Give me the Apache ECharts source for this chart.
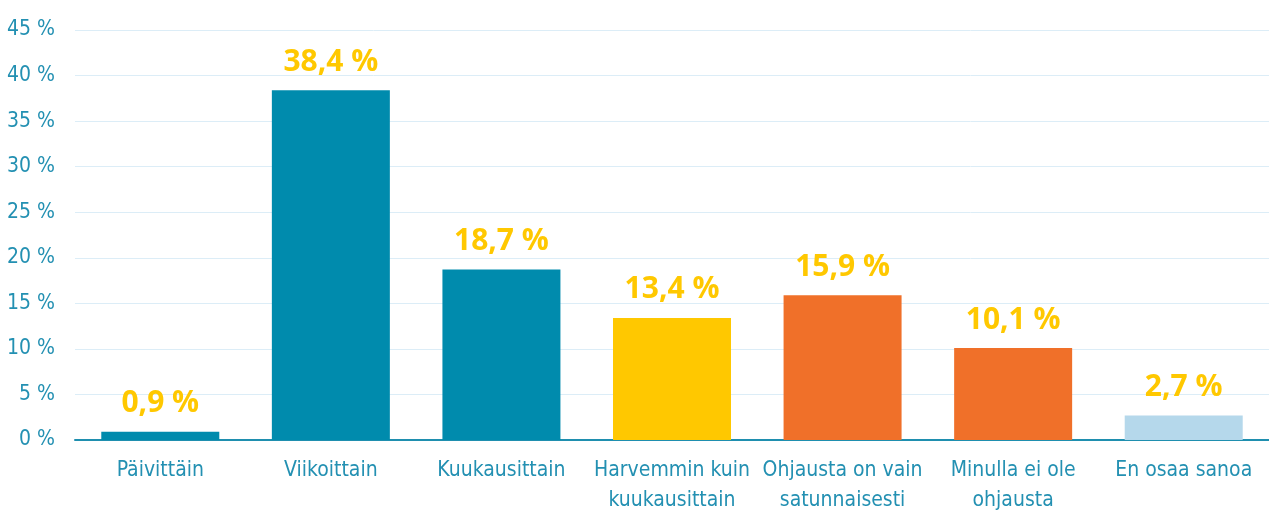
<!DOCTYPE html>
<html>
<head>
<meta charset="utf-8">
<script src="https://cdn.jsdelivr.net/npm/echarts@6/dist/echarts.min.js"></script>
<style>
  html, body { margin: 0; padding: 0; background: #fff; }
  #chart { width: 1269px; height: 517px; }
</style>
</head>
<body>
<div id="chart"></div>
<script>
var categories = [
  "Päivittäin",
  "Viikoittain",
  "Kuukausittain",
  "Harvemmin kuin\nkuukausittain",
  "Ohjausta on vain\nsatunnaisesti",
  "Minulla ei ole\nohjausta",
  "En osaa sanoa"
];
var values = [0.9, 38.4, 18.7, 13.4, 15.9, 10.1, 2.7];
var barColors = ["#008BAD", "#008BAD", "#008BAD", "#FFC800", "#F07029", "#F07029", "#B5D8EB"];

// condensed face via font-stretch keyword in the canvas font shorthand
var axisFont = "'DejaVu Sans', sans-serif";
var axisStretch = "condensed";

var myChart = echarts.init(document.getElementById("chart"), null, { renderer: "canvas" });

var option = {
  animation: false,
  grid: {
    top: 30,
    left: 75,
    right: 0,
    bottom: 77,
    containLabel: false
  },
  xAxis: {
    type: "category",
    data: categories,
    axisTick: { show: false },
    axisLine: { show: true, lineStyle: { color: "#1F8FAF", width: 2 } },
    axisLabel: {
      interval: 0,
      margin: 16,
      color: "#2390B2",
      fontSize: 21,
      lineHeight: 30,
      fontStyle: axisStretch,
      fontFamily: axisFont
    }
  },
  yAxis: {
    type: "value",
    min: 0,
    max: 45,
    interval: 5,
    axisLine: { show: false },
    axisTick: { show: false },
    splitLine: { lineStyle: { color: "#DCEDF7", width: 1 } },
    axisLabel: {
      margin: 20,
      color: "#2390B2",
      fontSize: 21,
      fontStyle: axisStretch,
      fontFamily: axisFont,
      formatter: function (v) { return v + " %"; }
    }
  },
  series: [
    {
      type: "bar",
      barWidth: 118,
      data: values.map(function (v, i) {
        return { value: v, itemStyle: { color: barColors[i] } };
      }),
      label: {
        show: true,
        position: "top",
        distance: 13,
        color: "#FFC800",
        fontSize: 30,
        fontWeight: "bold",
        fontFamily: "'Open Sans', sans-serif",
        formatter: function (p) {
          return String(p.value.toFixed(1)).replace(".", ",") + " %";
        }
      }
    }
  ]
};

myChart.setOption(option);
</script>
</body>
</html>
